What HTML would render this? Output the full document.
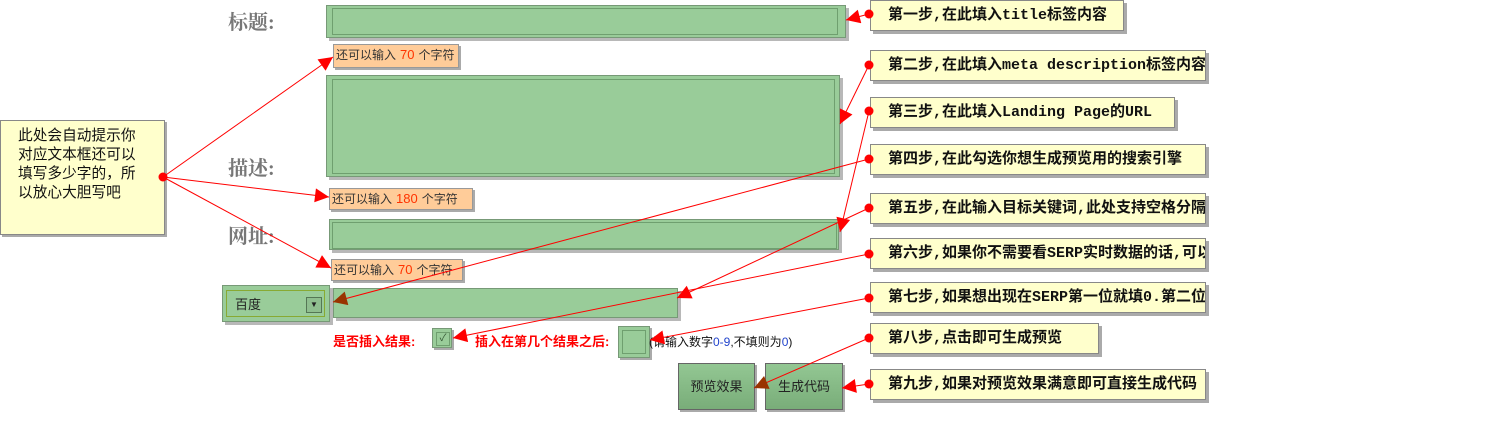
<!DOCTYPE html>
<html><head><meta charset="utf-8">
<style>
body{margin:0;width:1503px;height:423px;background:#fff;position:relative;overflow:hidden;font-family:"Liberation Sans","Noto Sans CJK SC",sans-serif}
.a{position:absolute;box-sizing:border-box}
.g{background:#99cc99;border:1px solid #779977;box-shadow:3px 3px 0 #b8b8b8}
.gi{position:absolute;border:1px solid #6f9f6f}
.lab{position:absolute;font-family:"Liberation Serif","Noto Serif CJK SC",serif;font-weight:bold;font-size:20px;color:#777}
.tip{background:#ffcc99;border:1px solid #999;box-shadow:2px 2px 0 #aaa;font-size:12px;color:#333;line-height:20px;padding-left:2px;white-space:nowrap}
.tip b{font-weight:normal;color:#ff3300;font-size:13px;margin:0 4px}
.co{background:#ffffcc;border:1px solid #888;box-shadow:3px 3px 0 #aaa;font-family:"Liberation Mono","Noto Sans CJK SC",monospace;font-weight:bold;font-size:15px;color:#111;line-height:29px;padding-left:17px;white-space:nowrap;overflow:hidden}
.btn{background:linear-gradient(#93c793,#79ad79);border:1px solid #666;box-shadow:2px 2px 0 #aaa;font-size:13px;color:#222;text-align:center;line-height:46px}
.red{color:#ff0000;font-weight:bold;font-size:13px;position:absolute}
</style></head><body>
<div class="lab" style="left:228px;top:6px">标题:</div>
<div class="lab" style="left:228px;top:152px">描述:</div>
<div class="lab" style="left:228px;top:220px">网址:</div>

<div class="a g" style="left:326px;top:5px;width:520px;height:33px"><div class="gi" style="left:5px;top:2px;width:504px;height:25px"></div></div>
<div class="a tip" style="left:333px;top:44px;width:126px;height:24px">还可以输入<b>70</b>个字符</div>
<div class="a g" style="left:326px;top:75px;width:514px;height:102px"><div class="gi" style="left:5px;top:3px;width:501px;height:93px"></div></div>
<div class="a tip" style="left:329px;top:188px;width:144px;height:22px">还可以输入<b>180</b>个字符</div>
<div class="a g" style="left:329px;top:219px;width:510px;height:31px"><div class="gi" style="left:2px;top:2px;width:503px;height:25px"></div></div>
<div class="a tip" style="left:331px;top:259px;width:132px;height:22px">还可以输入<b>70</b>个字符</div>

<div class="a g" style="left:222px;top:285px;width:108px;height:37px"><div class="gi" style="left:3px;top:4px;width:99px;height:27px;border-color:#88aa33;font-size:13px;line-height:27px;padding-left:8px;box-sizing:border-box;color:#222">百度<div style="position:absolute;left:79px;top:6px;width:14px;height:14px;border:1px solid #557755;background:#8fbf8f;font-size:8px;line-height:14px;text-align:center">▼</div></div></div>
<div class="a g" style="left:333px;top:288px;width:345px;height:30px"></div>

<div class="red" style="left:333px;top:331px">是否插入结果:</div>
<div class="a g" style="left:432px;top:328px;width:20px;height:20px;box-shadow:2px 2px 0 #aaa"><div class="gi" style="left:3px;top:3px;width:12px;height:12px;font-size:10px;line-height:12px;text-align:center;color:#335533">✓</div></div>
<div class="red" style="left:475px;top:331px">插入在第几个结果之后:</div>
<div class="a g" style="left:618px;top:326px;width:32px;height:32px;box-shadow:2px 2px 0 #aaa"><div class="gi" style="left:3px;top:3px;width:22px;height:22px"></div></div>
<div style="position:absolute;left:649px;top:333px;font-size:12px;color:#111">(请输入数字<span style="color:#2244cc">0-9</span>,不填则为<span style="color:#2244cc">0</span>)</div>

<div class="a btn" style="left:678px;top:363px;width:77px;height:47px">预览效果</div>
<div class="a btn" style="left:765px;top:363px;width:78px;height:47px">生成代码</div>

<div class="a" style="left:0;top:120px;width:165px;height:115px;background:#ffffcc;border:1px solid #888;box-shadow:2px 2px 0 #aaa;font-size:14.7px;line-height:19px;padding:6px 0 0 17px;color:#111;white-space:nowrap">此处会自动提示你<br>对应文本框还可以<br>填写多少字的，所<br>以放心大胆写吧</div>

<div class="a co" style="left:870px;top:0px;width:254px;height:31px">第一步,在此填入title标签内容</div>
<div class="a co" style="left:870px;top:50px;width:336px;height:31px">第二步,在此填入meta description标签内容</div>
<div class="a co" style="left:870px;top:97px;width:305px;height:31px">第三步,在此填入Landing Page的URL</div>
<div class="a co" style="left:870px;top:144px;width:336px;height:31px">第四步,在此勾选你想生成预览用的搜索引擎</div>
<div class="a co" style="left:870px;top:193px;width:336px;height:31px">第五步,在此输入目标关键词,此处支持空格分隔</div>
<div class="a co" style="left:870px;top:238px;width:336px;height:31px">第六步,如果你不需要看SERP实时数据的话,可以</div>
<div class="a co" style="left:870px;top:282px;width:336px;height:31px">第七步,如果想出现在SERP第一位就填0.第二位</div>
<div class="a co" style="left:870px;top:323px;width:229px;height:31px">第八步,点击即可生成预览</div>
<div class="a co" style="left:870px;top:369px;width:336px;height:31px">第九步,如果对预览效果满意即可直接生成代码</div>

<svg class="a" style="left:0;top:0" width="1503" height="423">
<defs><marker id="m" viewBox="0 0 10 10" refX="10" refY="5" markerWidth="20" markerHeight="14" markerUnits="userSpaceOnUse" orient="auto"><path d="M0,0L10,5L0,10z" fill="#f00"/></marker>
<marker id="d" viewBox="0 0 10 10" refX="10" refY="5" markerWidth="20" markerHeight="14" markerUnits="userSpaceOnUse" orient="auto"><path d="M0,0L10,5L0,10z" fill="#993300"/></marker></defs>
<g stroke="#f00" stroke-width="1" fill="none">
<line x1="163" y1="177" x2="333" y2="57" marker-end="url(#m)"/>
<line x1="163" y1="177" x2="329" y2="197" marker-end="url(#m)"/>
<line x1="163" y1="177" x2="331" y2="268" marker-end="url(#m)"/>
<line x1="869" y1="14" x2="846" y2="20" marker-end="url(#m)"/>
<line x1="869" y1="65" x2="840" y2="124" marker-end="url(#m)"/>
<line x1="869" y1="111" x2="840" y2="232" marker-end="url(#m)"/>
<line x1="869" y1="159" x2="333" y2="302" marker-end="url(#d)"/>
<line x1="869" y1="208" x2="677" y2="298" marker-end="url(#m)"/>
<line x1="869" y1="254" x2="453" y2="338" marker-end="url(#m)"/>
<line x1="869" y1="298" x2="650" y2="340" marker-end="url(#m)"/>
<line x1="869" y1="338" x2="754" y2="388" marker-end="url(#d)"/>
<line x1="869" y1="384" x2="842" y2="388" marker-end="url(#m)"/>
</g>
<g fill="#f00">
<circle cx="163" cy="177" r="4.5"/>
<circle cx="869" cy="14" r="4.5"/><circle cx="869" cy="65" r="4.5"/><circle cx="869" cy="111" r="4.5"/>
<circle cx="869" cy="159" r="4.5"/><circle cx="869" cy="208" r="4.5"/><circle cx="869" cy="254" r="4.5"/>
<circle cx="869" cy="298" r="4.5"/><circle cx="869" cy="338" r="4.5"/><circle cx="869" cy="384" r="4.5"/>
</g>
</svg>
</body></html>
